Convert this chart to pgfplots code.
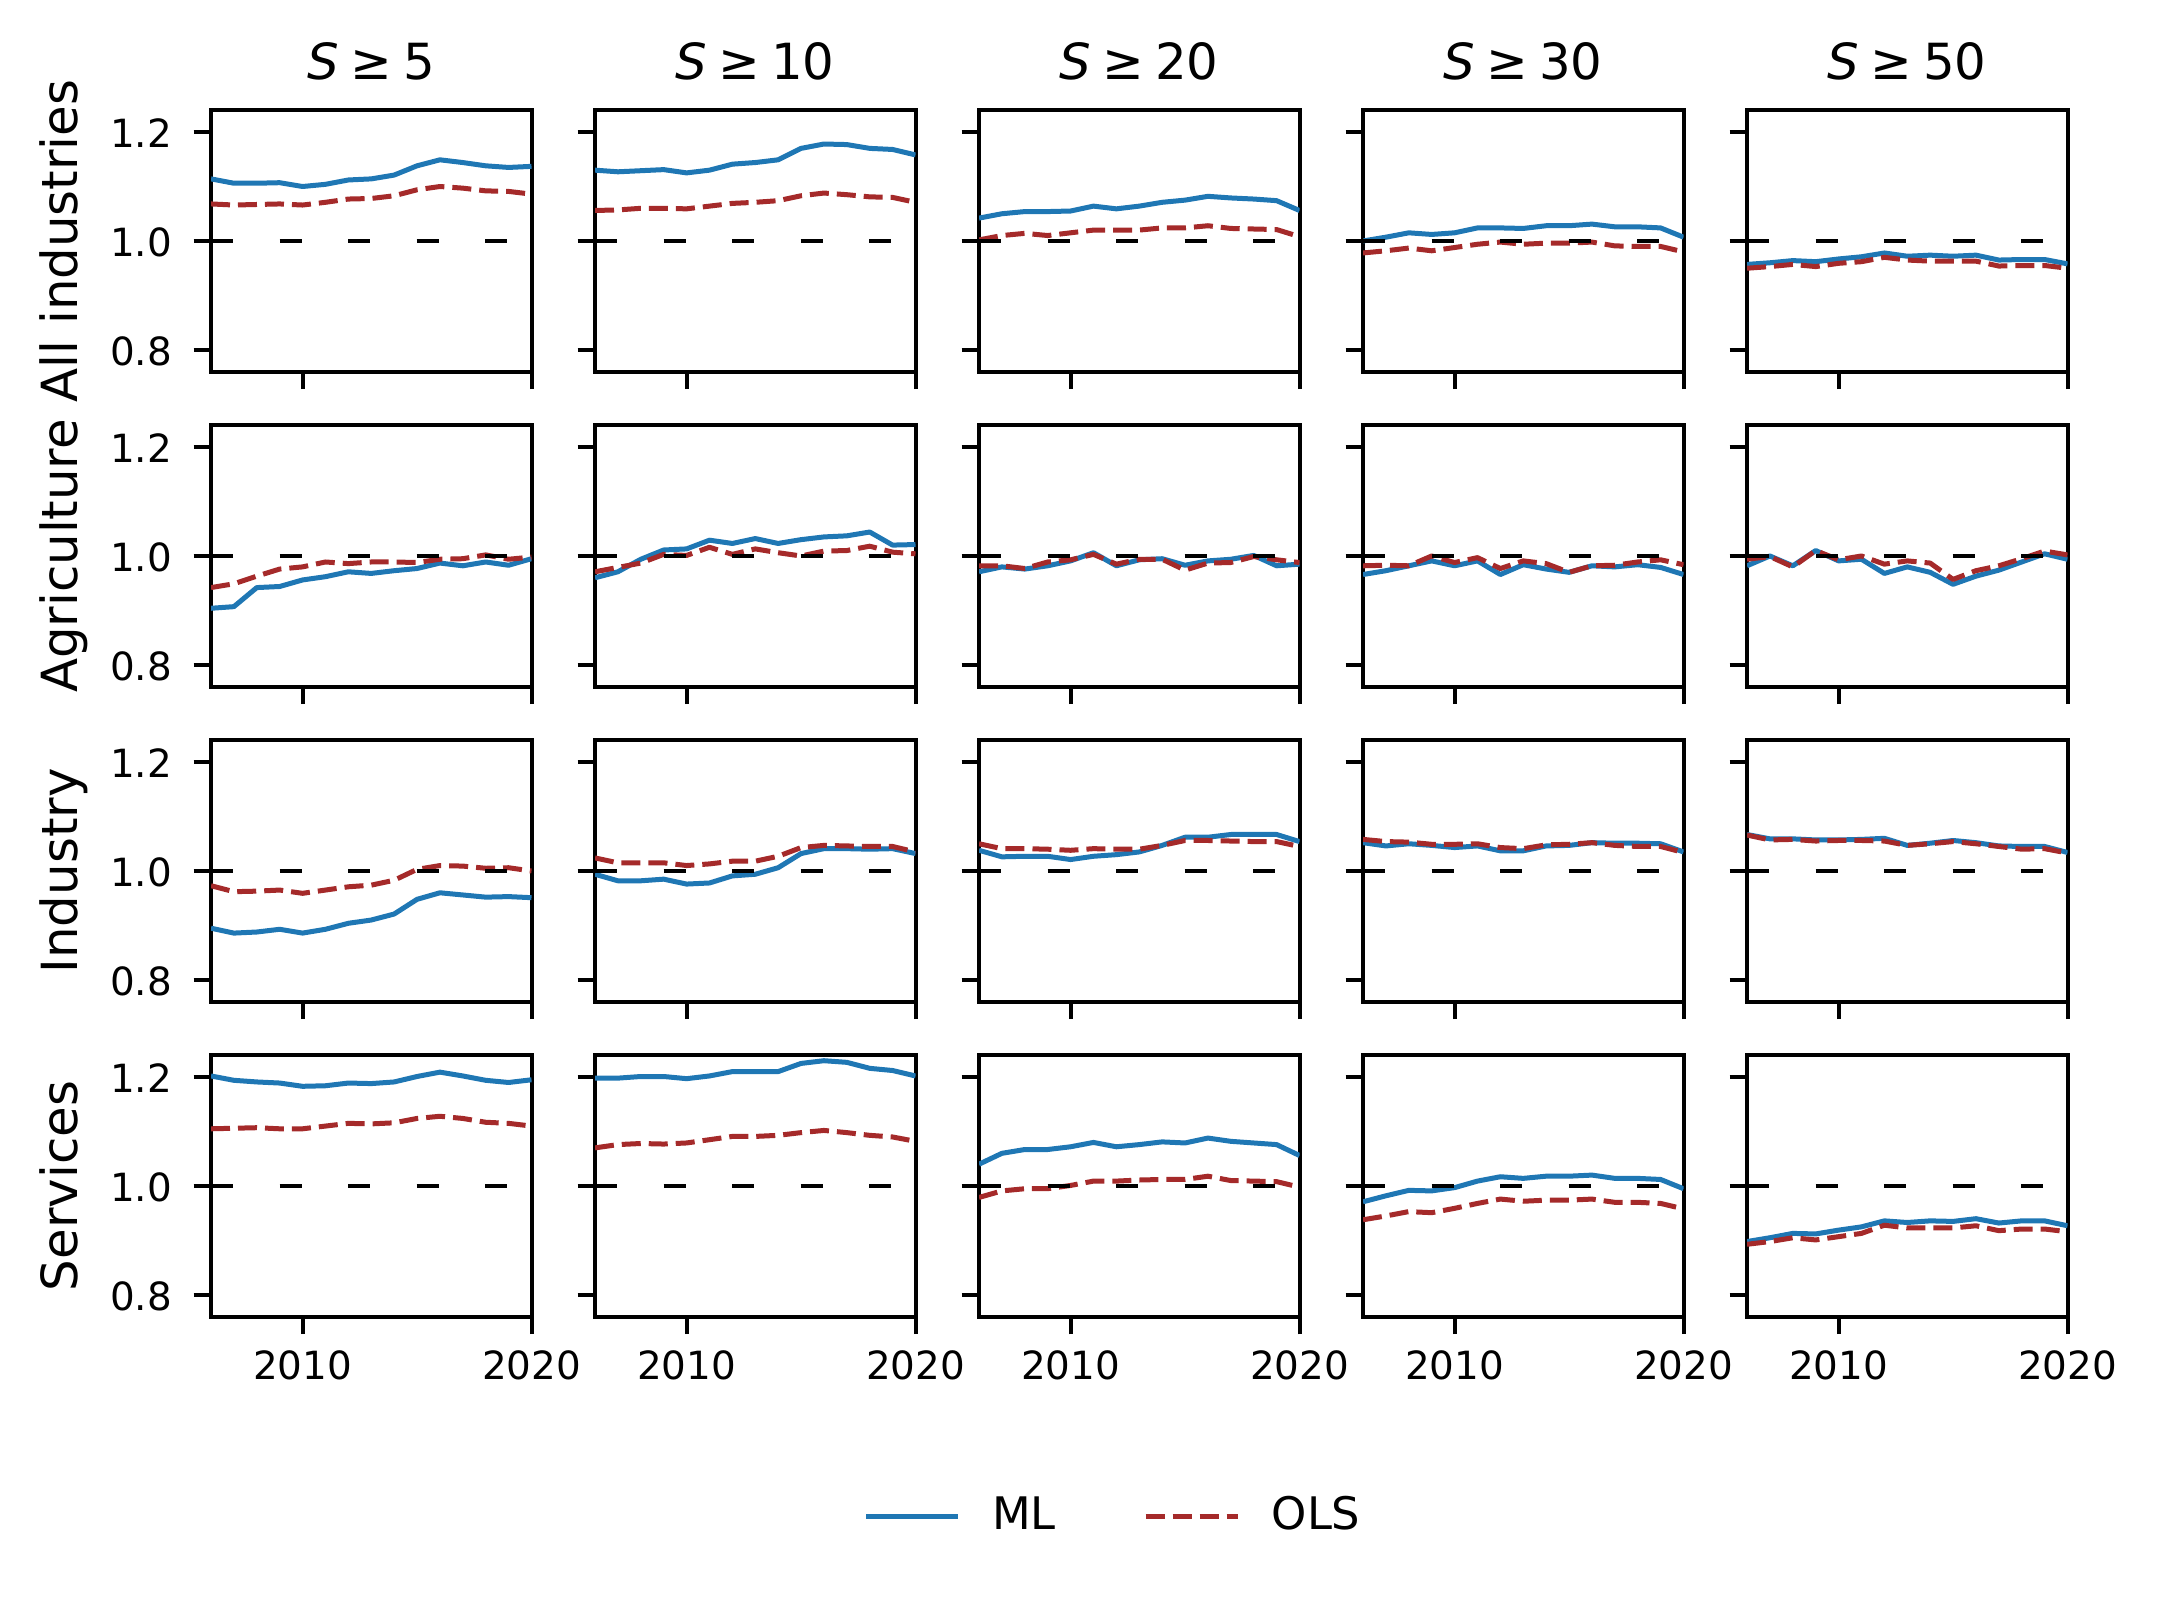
\documentclass[border=0pt]{standalone}
\usepackage{fontspec}
\setmainfont{DejaVu Sans}
\usepackage{pgfplots}
\usepackage{pgfplotstable}
\pgfplotsset{compat=1.18}
\definecolor{mlblue}{HTML}{1F77B4}
\definecolor{olsred}{HTML}{A52A2A}

% Row 1: All industries
\pgfplotstableread{
year ml1 ols1 ml2 ols2 ml3 ols3 ml4 ols4 ml5 ols5
2006 1.114 1.068 1.130 1.056 1.042 1.002 1.000 0.978 0.957 0.950
2007 1.106 1.066 1.127 1.057 1.050 1.010 1.007 0.982 0.960 0.953
2008 1.106 1.067 1.129 1.060 1.054 1.014 1.015 0.987 0.964 0.957
2009 1.107 1.068 1.131 1.060 1.054 1.010 1.012 0.982 0.962 0.953
2010 1.100 1.066 1.125 1.059 1.055 1.015 1.015 0.988 0.967 0.959
2011 1.104 1.071 1.130 1.064 1.064 1.020 1.024 0.994 0.971 0.962
2012 1.112 1.077 1.141 1.069 1.059 1.020 1.024 0.998 0.978 0.970
2013 1.114 1.078 1.144 1.071 1.064 1.020 1.023 0.994 0.972 0.965
2014 1.121 1.083 1.149 1.074 1.071 1.024 1.028 0.996 0.974 0.963
2015 1.138 1.094 1.170 1.083 1.075 1.024 1.028 0.996 0.972 0.963
2016 1.149 1.100 1.178 1.088 1.082 1.028 1.031 0.998 0.974 0.963
2017 1.144 1.097 1.177 1.085 1.079 1.023 1.026 0.991 0.965 0.954
2018 1.138 1.092 1.170 1.081 1.077 1.022 1.026 0.990 0.966 0.955
2019 1.135 1.091 1.168 1.080 1.074 1.021 1.024 0.990 0.966 0.955
2020 1.137 1.086 1.158 1.071 1.056 1.008 1.007 0.980 0.958 0.950
}\rowA

% Row 2: Agriculture
\pgfplotstableread{
year ml1 ols1 ml2 ols2 ml3 ols3 ml4 ols4 ml5 ols5
2006 0.904 0.942 0.960 0.971 0.971 0.982 0.966 0.982 0.982 0.994
2007 0.907 0.949 0.971 0.979 0.980 0.982 0.973 0.983 1.000 0.999
2008 0.942 0.963 0.994 0.987 0.976 0.977 0.982 0.982 0.982 0.980
2009 0.944 0.976 1.011 1.003 0.982 0.989 0.991 1.000 1.010 1.010
2010 0.956 0.980 1.013 1.001 0.991 0.993 0.982 0.988 0.991 0.993
2011 0.962 0.989 1.029 1.016 1.006 1.003 0.991 0.997 0.994 1.000
2012 0.971 0.986 1.023 1.003 0.982 0.985 0.966 0.977 0.968 0.985
2013 0.968 0.989 1.032 1.013 0.993 0.994 0.984 0.991 0.980 0.991
2014 0.973 0.989 1.023 1.006 0.995 0.994 0.976 0.986 0.970 0.987
2015 0.977 0.988 1.030 1.000 0.983 0.974 0.970 0.970 0.948 0.957
2016 0.987 0.994 1.035 1.009 0.991 0.987 0.982 0.982 0.963 0.973
2017 0.982 0.995 1.037 1.010 0.994 0.988 0.980 0.983 0.974 0.982
2018 0.989 1.002 1.044 1.018 1.001 0.999 0.984 0.989 0.989 0.995
2019 0.983 0.994 1.020 1.007 0.982 0.993 0.979 0.993 1.004 1.009
2020 0.995 0.998 1.021 1.004 0.985 0.988 0.966 0.984 0.994 1.002
}\rowB

% Row 3: Industry
\pgfplotstableread{
year ml1 ols1 ml2 ols2 ml3 ols3 ml4 ols4 ml5 ols5
2006 0.895 0.973 0.994 1.024 1.038 1.050 1.052 1.058 1.067 1.066
2007 0.886 0.962 0.982 1.015 1.026 1.041 1.046 1.054 1.059 1.057
2008 0.888 0.963 0.982 1.015 1.027 1.041 1.050 1.053 1.059 1.058
2009 0.893 0.965 0.985 1.015 1.027 1.040 1.047 1.049 1.057 1.055
2010 0.886 0.959 0.976 1.010 1.021 1.038 1.043 1.049 1.057 1.056
2011 0.893 0.965 0.978 1.013 1.027 1.041 1.046 1.050 1.058 1.056
2012 0.904 0.971 0.991 1.018 1.030 1.040 1.037 1.043 1.060 1.055
2013 0.910 0.974 0.994 1.018 1.035 1.040 1.037 1.041 1.047 1.047
2014 0.921 0.983 1.006 1.027 1.047 1.047 1.046 1.048 1.051 1.050
2015 0.948 1.003 1.032 1.043 1.062 1.056 1.047 1.049 1.056 1.054
2016 0.960 1.010 1.041 1.047 1.062 1.056 1.052 1.052 1.052 1.050
2017 0.956 1.009 1.041 1.046 1.067 1.055 1.051 1.047 1.046 1.045
2018 0.952 1.005 1.040 1.045 1.067 1.054 1.051 1.045 1.045 1.040
2019 0.953 1.006 1.041 1.045 1.067 1.054 1.050 1.045 1.045 1.041
2020 0.951 1.000 1.032 1.035 1.054 1.045 1.035 1.034 1.034 1.033
}\rowC

% Row 4: Services
\pgfplotstableread{
year ml1 ols1 ml2 ols2 ml3 ols3 ml4 ols4 ml5 ols5
2006 1.202 1.105 1.198 1.070 1.040 0.979 0.971 0.938 0.898 0.893
2007 1.194 1.106 1.198 1.076 1.060 0.991 0.982 0.945 0.905 0.898
2008 1.191 1.107 1.201 1.078 1.067 0.995 0.992 0.953 0.913 0.905
2009 1.189 1.105 1.201 1.077 1.067 0.995 0.991 0.951 0.912 0.901
2010 1.183 1.105 1.197 1.079 1.072 1.001 0.997 0.959 0.919 0.907
2011 1.184 1.110 1.202 1.085 1.080 1.009 1.009 0.968 0.925 0.913
2012 1.189 1.115 1.210 1.091 1.072 1.009 1.017 0.976 0.936 0.928
2013 1.188 1.114 1.210 1.091 1.076 1.011 1.014 0.972 0.933 0.923
2014 1.191 1.116 1.210 1.093 1.081 1.012 1.018 0.974 0.936 0.923
2015 1.201 1.124 1.225 1.098 1.079 1.012 1.018 0.974 0.935 0.923
2016 1.209 1.128 1.230 1.102 1.088 1.018 1.020 0.976 0.940 0.927
2017 1.202 1.124 1.227 1.098 1.082 1.010 1.014 0.970 0.932 0.918
2018 1.194 1.117 1.216 1.093 1.079 1.009 1.014 0.970 0.936 0.921
2019 1.190 1.115 1.212 1.090 1.076 1.008 1.012 0.968 0.936 0.921
2020 1.195 1.110 1.202 1.082 1.056 0.998 0.995 0.958 0.927 0.916
}\rowD

\pgfplotsset{
  panel/.style={
    anchor=south west, scale only axis,
    width=64.1bp, height=52.3bp,
    xmin=2006, xmax=2020, ymin=0.76, ymax=1.24,
    xtick={2010,2020}, ytick={0.8,1.0,1.2},
    xticklabels={}, yticklabels={},
    tick align=outside, tick pos=left,
    major tick length=3.5bp,
    tick style={black, line width=0.8bp},
    axis line style={line width=0.8bp},
    tick label style={font=\fontsize{7.8}{9}\selectfont},
    xticklabel style={inner sep=0pt, yshift=-3.06bp},
    yticklabel style={inner sep=0pt, xshift=-4.1bp, yshift=-0.3bp},
  },
  xlab/.style={xticklabels={2010,2020}},
  ylab/.style={yticklabels={0.8,1.0,1.2}},
  mlstyle/.style={color=mlblue, line width=1bp, line join=round, no markers},
  olsstyle/.style={color=olsred, line width=1bp, dash pattern=on 3.8bp off 1.6bp, line join=round, no markers},
  refstyle/.style={black, line width=0.8bp, dash pattern=on 4.4bp off 9.3bp, forget plot, no markers},
  legend image code/.code={\draw[#1] (0bp,0bp) -- (18.4bp,0bp);},
}

\newcommand{\panel}[6]{%
  \begin{axis}[panel, at={(#1,#2)}, #5]
    \addplot[mlstyle] table[x=year, y=ml#4] {#3};
    \addplot[olsstyle] table[x=year, y=ols#4] {#3};
    \addplot[refstyle] coordinates {(2006,1) (2020,1)};
    #6
  \end{axis}}

\begin{document}
\begin{tikzpicture}
\path[use as bounding box] (0,0) rectangle (432bp,319.6bp);

% Row 1
\panel{42.2bp}{245.25bp}{\rowA}{1}{ylab}{}
\panel{119.0bp}{245.25bp}{\rowA}{2}{}{}
\panel{195.8bp}{245.25bp}{\rowA}{3}{}{}
\panel{272.6bp}{245.25bp}{\rowA}{4}{}{}
\panel{349.4bp}{245.25bp}{\rowA}{5}{}{}
% Row 2
\panel{42.2bp}{182.25bp}{\rowB}{1}{ylab}{}
\panel{119.0bp}{182.25bp}{\rowB}{2}{}{}
\panel{195.8bp}{182.25bp}{\rowB}{3}{}{}
\panel{272.6bp}{182.25bp}{\rowB}{4}{}{}
\panel{349.4bp}{182.25bp}{\rowB}{5}{}{}
% Row 3
\panel{42.2bp}{119.25bp}{\rowC}{1}{ylab}{}
\panel{119.0bp}{119.25bp}{\rowC}{2}{}{}
\panel{195.8bp}{119.25bp}{\rowC}{3}{}{}
\panel{272.6bp}{119.25bp}{\rowC}{4}{}{}
\panel{349.4bp}{119.25bp}{\rowC}{5}{}{}
% Row 4
\panel{42.2bp}{56.25bp}{\rowD}{1}{ylab,xlab}{}
\panel{119.0bp}{56.25bp}{\rowD}{2}{xlab}{}
\panel{195.8bp}{56.25bp}{\rowD}{3}{xlab, legend style={at={(0.415,-0.764)}, anchor=center, draw=none, fill=none, legend columns=2, font=\fontsize{9}{10.8}\selectfont, nodes={inner sep=0pt}, /tikz/every odd column/.append style={column sep=6.3bp}, /tikz/every even column/.append style={column sep=17.5bp}}}{\legend{ML,OLS}}
\panel{272.6bp}{56.25bp}{\rowD}{4}{xlab}{}
\panel{349.4bp}{56.25bp}{\rowD}{5}{xlab}{}

% Column titles
\foreach \cx/\s in {74.25/5, 151.05/10, 227.85/20, 304.65/30, 381.45/50}{
  \node[anchor=base, inner sep=0pt, font=\fontsize{10}{12}\selectfont] at (\cx bp,303.66bp) {\textit{S}\hspace{2.2pt}≥\hspace{2.2pt}\s};
}
% Row labels
\node[rotate=90, anchor=base, inner sep=0pt, font=\fontsize{10}{12}\selectfont] at (15.5bp,271.4bp) {All industries};
\node[rotate=90, anchor=base, inner sep=0pt, font=\fontsize{10}{12}\selectfont] at (15.5bp,208.4bp) {Agriculture};
\node[rotate=90, anchor=base, inner sep=0pt, font=\fontsize{10}{12}\selectfont] at (15.5bp,145.4bp) {Industry};
\node[rotate=90, anchor=base, inner sep=0pt, font=\fontsize{10}{12}\selectfont] at (15.5bp,82.4bp) {Services};
\end{tikzpicture}
\end{document}
